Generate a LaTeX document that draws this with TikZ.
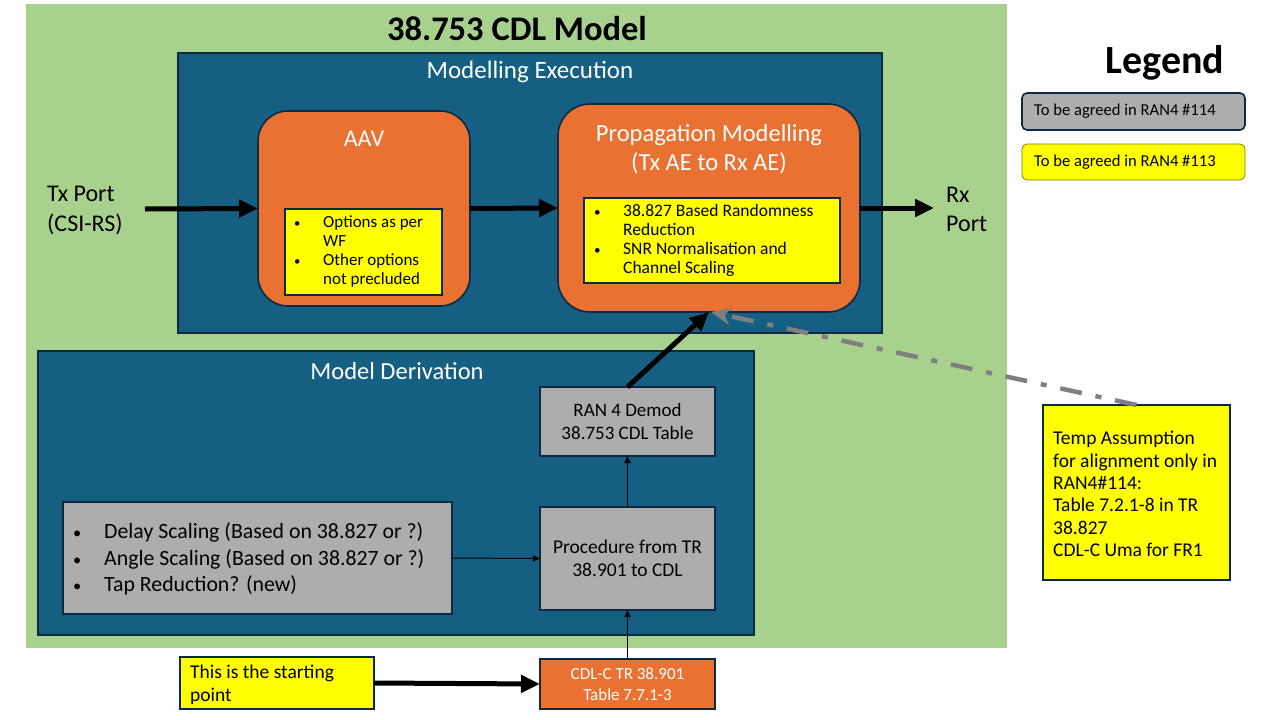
\documentclass[tikz,border=0pt]{standalone}
\usepackage{fontspec}
\setmainfont{Carlito}
\usetikzlibrary{arrows.meta}
\definecolor{bggreen}{HTML}{A9D18E}
\definecolor{navy}{HTML}{156082}
\definecolor{edge}{HTML}{0E2841}
\definecolor{orng}{HTML}{E97132}
\definecolor{gry}{HTML}{ADADAD}
\definecolor{ylw}{HTML}{FFFF00}
\definecolor{dgray}{HTML}{7F7F7F}
\definecolor{olv}{HTML}{7F7F00}
\newcommand{\fs}[2]{\fontsize{#1}{#2}\selectfont}
\newcommand{\bul}{\scalebox{0.75}{\textbullet}}
\tikzset{
  box/.style={draw=edge, line width=1.6pt, inner sep=0pt, outer sep=0pt},
  bluebox/.style={box, fill=navy},
  orangebox/.style={box, fill=orng},
  graybox/.style={box, fill=gry, align=center},
  yellowbox/.style={box, fill=ylw},
  whitetext/.style={text=white, inner sep=0pt},
  plaintext/.style={inner sep=0pt},
  bigarrow/.style={line width=5pt, -{Triangle[length=19pt,width=17pt]}},
  smallarrow/.style={line width=1pt, -{Triangle[length=7pt,width=6pt]}},
  dasharrow/.style={draw=dgray, line width=4.5pt, dash pattern=on 22pt off 14pt on 6pt off 14pt, -{Stealth[length=20pt,width=17pt,inset=6pt]}}
}
\begin{document}
\begin{tikzpicture}[x=1pt,y=-1pt]
\useasboundingbox (0,0) rectangle (1280,720);
\fill[white] (0,0) rectangle (1280,720);
% background
\node[fill=bggreen, inner sep=0pt, minimum width=981pt, minimum height=644pt] (bg) at (516.5,326) {};
\node[plaintext, font=\bfseries\fs{34.5}{40}] (title) at (517,29) {38.753 CDL Model};
% modelling execution
\node[bluebox, minimum width=704pt, minimum height=280pt] (exec) at (530,193) {};
\node[whitetext, font=\fs{25}{30}] (exect) at (530,72) {Modelling Execution};
\node[orangebox, rounded corners=30pt, minimum width=212pt, minimum height=195pt] (aav) at (364,208.5) {};
\node[whitetext, font=\fs{24}{29}] (aavt) at (364,139) {AAV};
\node[yellowbox, minimum width=157pt, minimum height=86pt] (aavy) at (363.5,252) {};
\node[plaintext, anchor=west, font=\fs{17}{19}] (aavyt) at (294,252.5) {\begin{tabular}{@{}p{29pt}@{}l@{}}\bul & Options as per\\ & WF\\ \bul & Other options\\ & not precluded\end{tabular}};
\node[orangebox, rounded corners=32pt, minimum width=302pt, minimum height=208pt] (prop) at (709,208) {};
\node[whitetext, font=\fs{24.5}{29}, align=center] (propt) at (709,149) {Propagation Modelling\\(Tx AE to Rx AE)};
\node[yellowbox, minimum width=256pt, minimum height=85pt] (propy) at (712,240.5) {};
\node[plaintext, anchor=west, font=\fs{17.5}{19}] (propyt) at (594,241.5) {\begin{tabular}{@{}p{29pt}@{}l@{}}\bul & 38.827 Based Randomness\\ & Reduction\\ \bul & SNR Normalisation and\\ & Channel Scaling\end{tabular}};
% ports
\node[plaintext, anchor=west, align=left, font=\fs{24}{30}] (tx) at (47,210) {Tx Port\\(CSI-RS)};
\coordinate (txs) at (145,209);
\node[plaintext, anchor=west, align=left, font=\fs{24}{29}] (rx) at (946,209.5) {Rx\\Port};
\coordinate (rxe) at (934,208);
% model derivation
\node[bluebox, minimum width=716pt, minimum height=284pt] (deriv) at (396,493) {};
\node[whitetext, font=\fs{24.5}{30}] (derivt) at (397,371) {Model Derivation};
\node[graybox, minimum width=175pt, minimum height=69pt, font=\fs{19}{23}] (demod) at (627.5,421.5) {RAN 4 Demod\\38.753 CDL Table};
\node[graybox, minimum width=175pt, minimum height=103pt, font=\fs{19.5}{23}] (proc) at (627.5,558.5) {Procedure from TR\\38.901 to CDL};
\node[graybox, minimum width=389pt, minimum height=112pt] (bul) at (257.5,558) {};
\node[plaintext, anchor=west, font=\fs{21.8}{26.5}] (bult) at (73,560) {\begin{tabular}{@{}p{31pt}@{}l@{}}\bul & Delay Scaling (Based on 38.827 or ?)\\ \bul & Angle Scaling (Based on 38.827 or ?)\\ \bul & Tap Reduction? (new)\end{tabular}};
% bottom
\node[orangebox, minimum width=175pt, minimum height=50pt, text=white, align=center, font=\fs{17}{21}] (cdl) at (627.5,684) {CDL-C TR 38.901\\Table 7.7.1-3};
\node[yellowbox, minimum width=194pt, minimum height=52pt] (start) at (277,683) {};
\node[plaintext, anchor=west, align=left, font=\fs{19.5}{23}] (startt) at (190,685) {This is the starting\\point};
% legend
\node[plaintext, font=\bfseries\fs{40}{46}] (legt) at (1165,63) {Legend};
\node[box, fill=gry, rounded corners=5pt, minimum width=223pt, minimum height=37pt] (leg1) at (1133.5,111.5) {};
\node[plaintext, anchor=west, font=\fs{16.6}{19}] (leg1t) at (1034,111.5) {To be agreed in RAN4 \#114};
\node[draw=olv, line width=0.8pt, fill=ylw, rounded corners=5pt, inner sep=0pt, minimum width=223pt, minimum height=36pt] (leg2) at (1133.5,162) {};
\node[plaintext, anchor=west, font=\fs{16.6}{19}] (leg2t) at (1034,162) {To be agreed in RAN4 \#113};
\node[yellowbox, minimum width=187pt, minimum height=175pt] (temp) at (1136.5,492.5) {};
\node[plaintext, anchor=west, align=left, font=\fs{19.5}{22.4}] (tempt) at (1053,494) {Temp Assumption\\for alignment only in\\RAN4\#114:\\Table 7.2.1-8 in TR\\38.827\\CDL-C Uma for FR1};
% connectors
\draw[bigarrow] (txs) -- (aav.west);
\draw[bigarrow] (aav.east) -- (prop.west);
\draw[bigarrow] (prop.east) -- (rxe);
\draw[bigarrow] (demod.north) -- (prop.south);
\draw[smallarrow] (proc.north) -- (demod.south);
\draw[smallarrow] (bul.east) -- (proc.west);
\draw[smallarrow] (cdl.north) -- (proc.south);
\draw[bigarrow] (start.east) -- (cdl.west);
\draw[dasharrow] (temp.north) -- ([xshift=2pt]prop.south);
\end{tikzpicture}
\end{document}
